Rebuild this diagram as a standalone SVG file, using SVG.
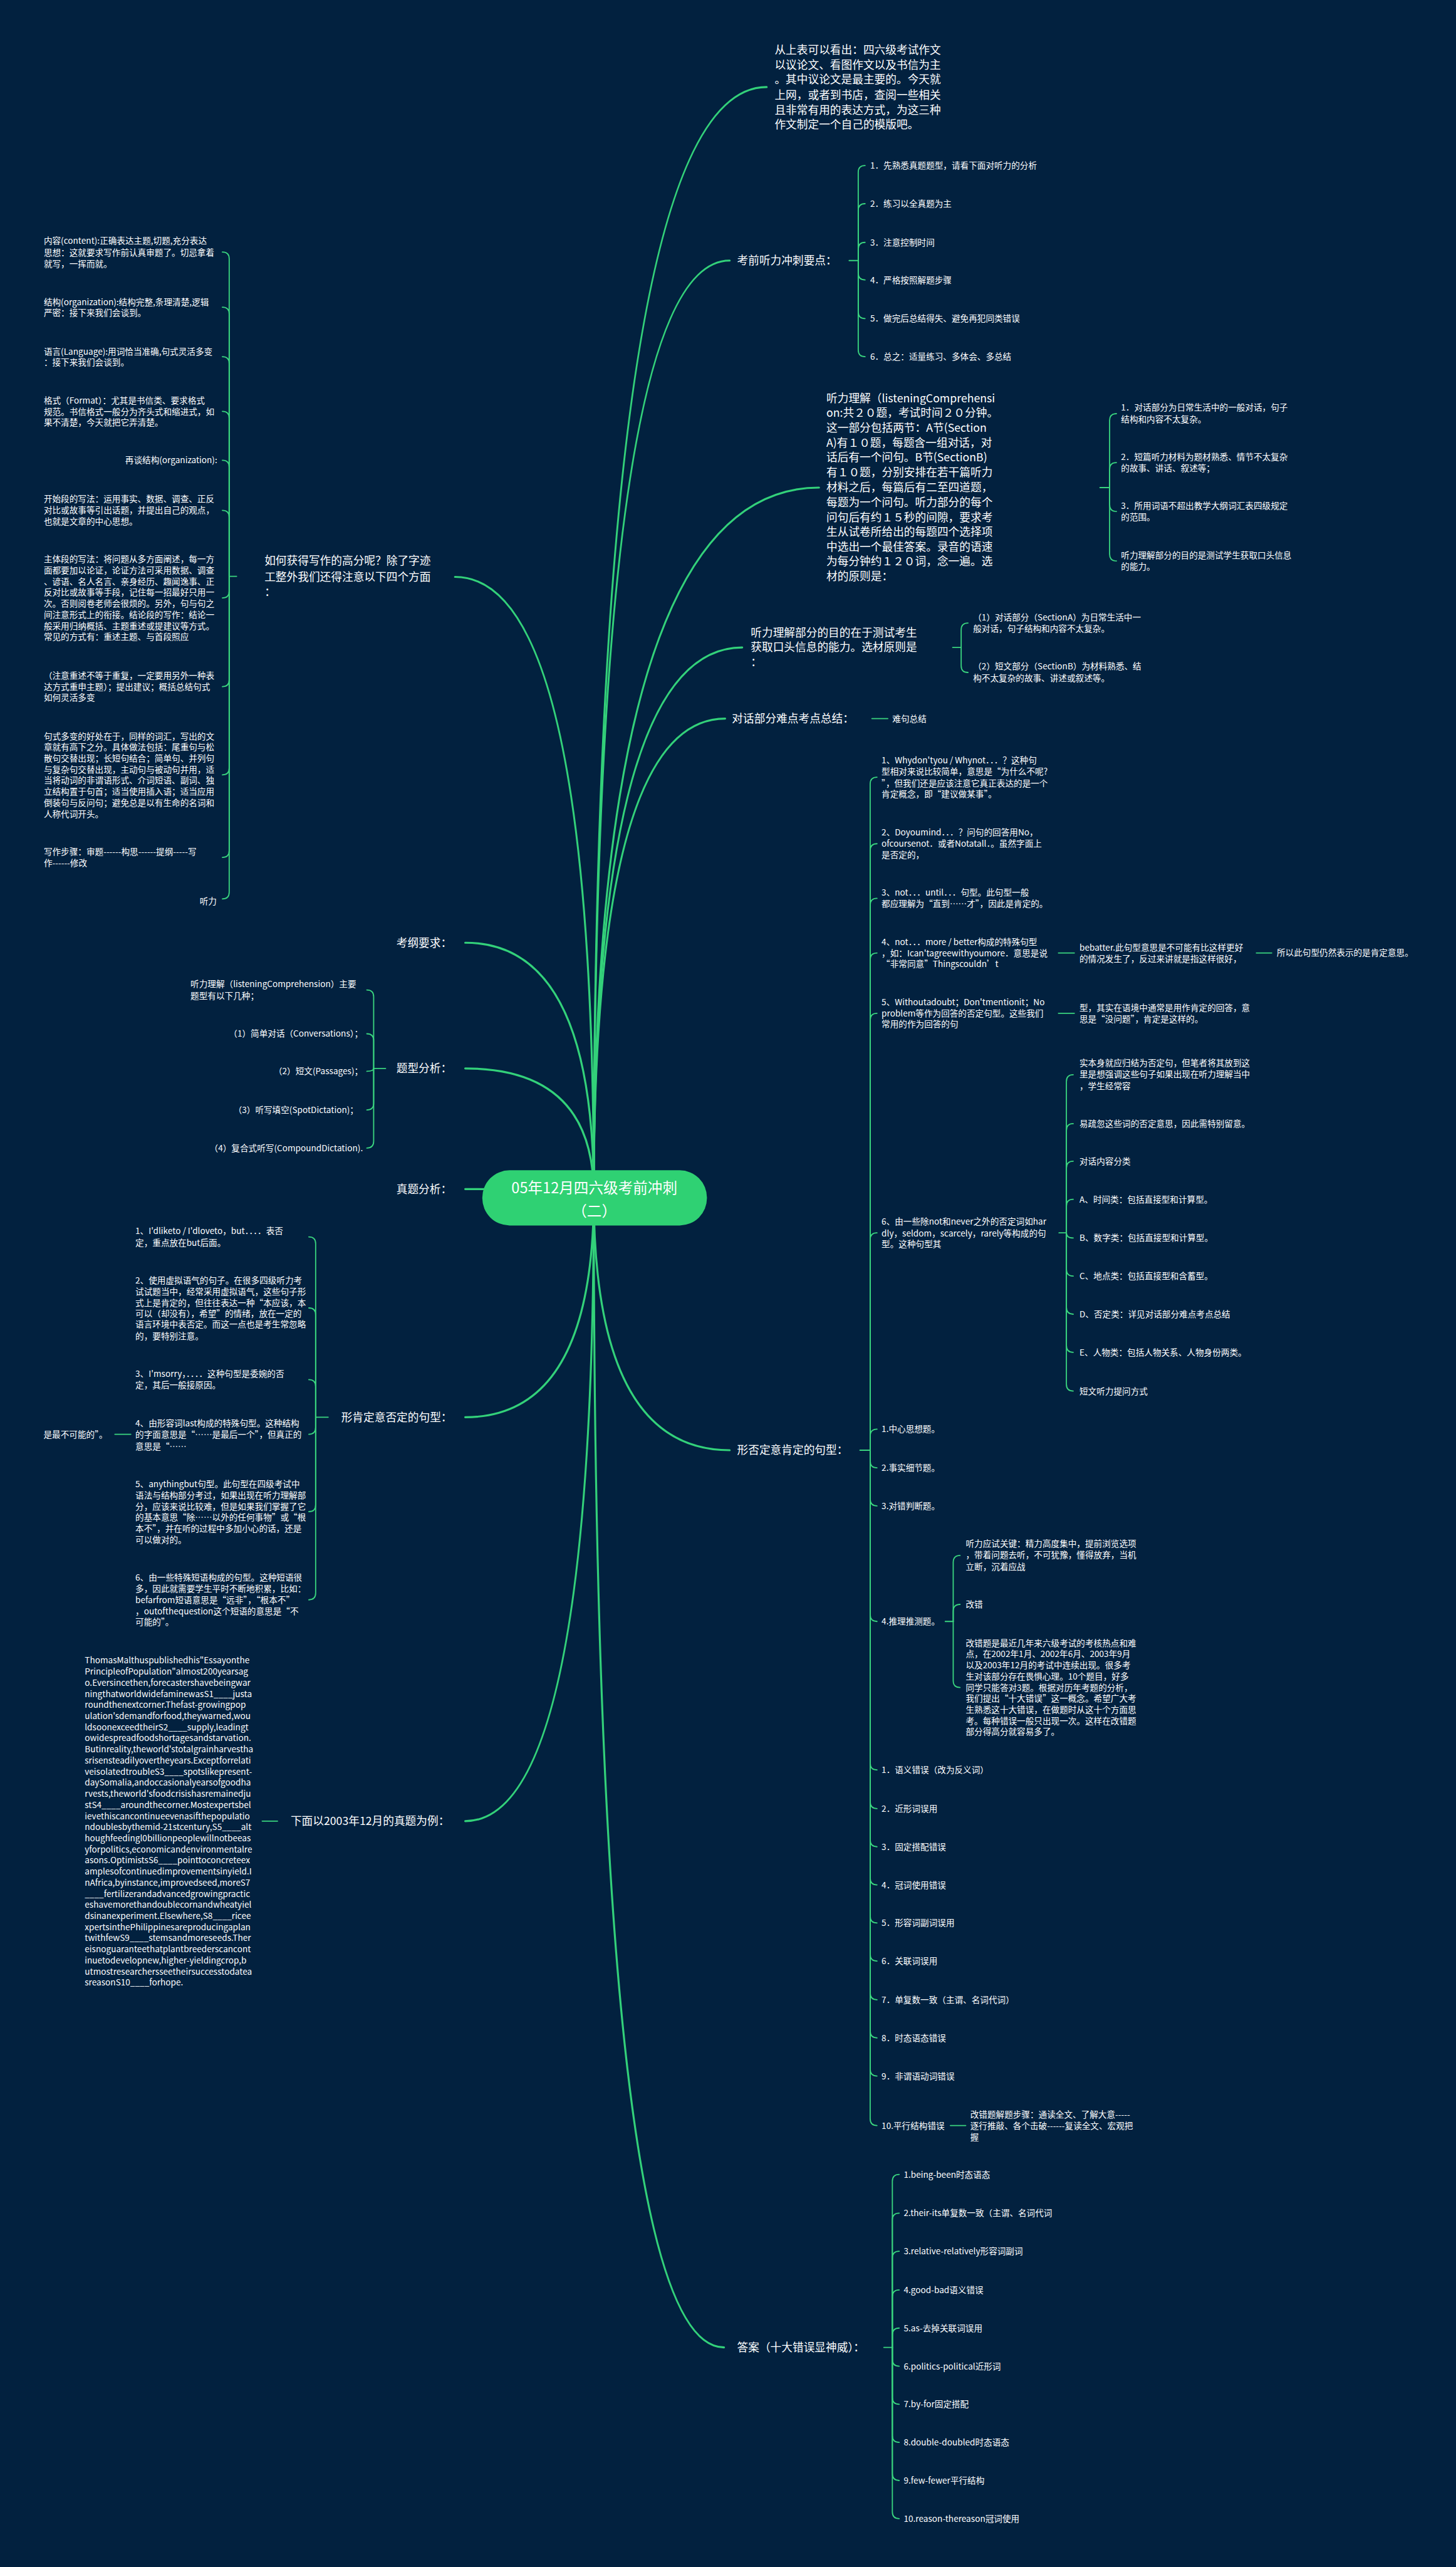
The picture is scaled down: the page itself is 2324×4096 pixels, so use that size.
<svg xmlns="http://www.w3.org/2000/svg" width="2324" height="4096" viewBox="0 0 2324 4096">
<style>
text{font-family:"Microsoft YaHei","Noto Sans CJK SC","Noto Sans",sans-serif;fill:#ffffff}
.h{font-size:19.5px}
.s{font-size:15px}
.e{text-anchor:end}
.m{font-size:26px;text-anchor:middle}
.c1{fill:none;stroke:#33d17a;stroke-width:3.5;stroke-linecap:round}
.c2{fill:none;stroke:#3ad57f;stroke-width:2;stroke-linecap:round}
</style>
<rect x="0" y="0" width="2324" height="4096" fill="#02213f"/>
<g transform="scale(0.9078)">
<g id="connectors">
<path class="c1" d="M1044 2100 Q1044 153 1348 153"/>
<path class="c1" d="M1044 2100 Q1044 458 1283 458"/>
<path class="c1" d="M1044 2100 Q1044 857 1440 857"/>
<path class="c1" d="M1044 2100 Q1044 1138 1305 1138"/>
<path class="c1" d="M1044 2100 Q1044 1263 1275 1263"/>
<path class="c1" d="M1044 2100 Q1044 2549 1283 2549"/>
<path class="c1" d="M1044 2100 Q1044 4126 1273 4126"/>
<path class="c1" d="M1044 2100 Q1044 1014 800 1014"/>
<path class="c1" d="M1044 2100 Q1044 1657 818 1657"/>
<path class="c1" d="M1044 2100 Q1044 1878 818 1878"/>
<path class="c1" d="M1044 2100 Q1044 2090 818 2090"/>
<path class="c1" d="M1044 2100 Q1044 2491 818 2491"/>
<path class="c1" d="M1044 2100 Q1044 3201 818 3201"/>
<!-- R2 -->
<path class="c2" d="M1493 458 H1509"/>
<path class="c2" d="M1509 458 V303 Q1509 291 1521 291"/>
<path class="c2" d="M1509 458 V370 Q1509 358 1521 358"/>
<path class="c2" d="M1509 458 V438 Q1509 426 1521 426"/>
<path class="c2" d="M1509 458 V480 Q1509 492 1521 492"/>
<path class="c2" d="M1509 458 V548 Q1509 560 1521 560"/>
<path class="c2" d="M1509 458 V615 Q1509 627 1521 627"/>
<!-- R3 -->
<path class="c2" d="M1934 857 H1951"/>
<path class="c2" d="M1951 857 V739 Q1951 727 1963 727"/>
<path class="c2" d="M1951 857 V825 Q1951 813 1963 813"/>
<path class="c2" d="M1951 857 V887 Q1951 899 1963 899"/>
<path class="c2" d="M1951 857 V974 Q1951 986 1963 986"/>
<!-- R4 -->
<path class="c2" d="M1675 1138 H1690"/>
<path class="c2" d="M1690 1138 V1107 Q1690 1095 1702 1095"/>
<path class="c2" d="M1690 1138 V1170 Q1690 1182 1702 1182"/>
<!-- R5 -->
<path class="c2" d="M1533 1263 H1561"/>
<!-- R6 -->
<path class="c2" d="M1512 2549 H1530"/>
<path class="c2" d="M1530 2549 V1378 Q1530 1366 1542 1366"/>
<path class="c2" d="M1530 2549 V1495 Q1530 1483 1542 1483"/>
<path class="c2" d="M1530 2549 V1591 Q1530 1579 1542 1579"/>
<path class="c2" d="M1530 2549 V1687 Q1530 1675 1542 1675"/>
<path class="c2" d="M1530 2549 V1793 Q1530 1781 1542 1781"/>
<path class="c2" d="M1530 2549 V2179 Q1530 2167 1542 2167"/>
<path class="c2" d="M1530 2549 V2524 Q1530 2512 1542 2512"/>
<path class="c2" d="M1530 2549 V2568 Q1530 2580 1542 2580"/>
<path class="c2" d="M1530 2549 V2635 Q1530 2647 1542 2647"/>
<path class="c2" d="M1530 2549 V2838 Q1530 2850 1542 2850"/>
<path class="c2" d="M1530 2549 V3099 Q1530 3111 1542 3111"/>
<path class="c2" d="M1530 2549 V3167 Q1530 3179 1542 3179"/>
<path class="c2" d="M1530 2549 V3234 Q1530 3246 1542 3246"/>
<path class="c2" d="M1530 2549 V3301 Q1530 3313 1542 3313"/>
<path class="c2" d="M1530 2549 V3368 Q1530 3380 1542 3380"/>
<path class="c2" d="M1530 2549 V3435 Q1530 3447 1542 3447"/>
<path class="c2" d="M1530 2549 V3503 Q1530 3515 1542 3515"/>
<path class="c2" d="M1530 2549 V3570 Q1530 3582 1542 3582"/>
<path class="c2" d="M1530 2549 V3637 Q1530 3649 1542 3649"/>
<path class="c2" d="M1530 2549 V3724 Q1530 3736 1542 3736"/>
<path class="c2" d="M1861 1675 H1889"/>
<path class="c2" d="M2209 1675 H2236"/>
<path class="c2" d="M1861 1781 H1889"/>
<path class="c2" d="M1862 2167 H1875"/>
<path class="c2" d="M1875 2167 V1901 Q1875 1889 1887 1889"/>
<path class="c2" d="M1875 2167 V1987 Q1875 1975 1887 1975"/>
<path class="c2" d="M1875 2167 V2053 Q1875 2041 1887 2041"/>
<path class="c2" d="M1875 2167 V2120 Q1875 2108 1887 2108"/>
<path class="c2" d="M1875 2167 Q1875 2176 1887 2176"/>
<path class="c2" d="M1875 2167 V2231 Q1875 2243 1887 2243"/>
<path class="c2" d="M1875 2167 V2298 Q1875 2310 1887 2310"/>
<path class="c2" d="M1875 2167 V2365 Q1875 2377 1887 2377"/>
<path class="c2" d="M1875 2167 V2433 Q1875 2445 1887 2445"/>
<path class="c2" d="M1662 2850 H1676"/>
<path class="c2" d="M1676 2850 V2746 Q1676 2734 1688 2734"/>
<path class="c2" d="M1676 2850 V2832 Q1676 2820 1688 2820"/>
<path class="c2" d="M1676 2850 V2954 Q1676 2966 1688 2966"/>
<path class="c2" d="M1671 3736 H1698"/>
<!-- R7 -->
<path class="c2" d="M1554 4126 H1569"/>
<path class="c2" d="M1569 4126 V3834 Q1569 3822 1581 3822"/>
<path class="c2" d="M1569 4126 V3902 Q1569 3890 1581 3890"/>
<path class="c2" d="M1569 4126 V3969 Q1569 3957 1581 3957"/>
<path class="c2" d="M1569 4126 V4037 Q1569 4025 1581 4025"/>
<path class="c2" d="M1569 4126 V4104 Q1569 4092 1581 4092"/>
<path class="c2" d="M1569 4126 V4147 Q1569 4159 1581 4159"/>
<path class="c2" d="M1569 4126 V4214 Q1569 4226 1581 4226"/>
<path class="c2" d="M1569 4126 V4281 Q1569 4293 1581 4293"/>
<path class="c2" d="M1569 4126 V4348 Q1569 4360 1581 4360"/>
<path class="c2" d="M1569 4126 V4415 Q1569 4427 1581 4427"/>
<!-- L1 -->
<path class="c2" d="M416 1013 H403"/>
<path class="c2" d="M403 1013 V455 Q403 443 391 443"/>
<path class="c2" d="M403 1013 V552 Q403 540 391 540"/>
<path class="c2" d="M403 1013 V639 Q403 627 391 627"/>
<path class="c2" d="M403 1013 V735 Q403 723 391 723"/>
<path class="c2" d="M403 1013 V821 Q403 809 391 809"/>
<path class="c2" d="M403 1013 V909 Q403 897 391 897"/>
<path class="c2" d="M403 1013 V1039 Q403 1051 391 1051"/>
<path class="c2" d="M403 1013 V1195 Q403 1207 391 1207"/>
<path class="c2" d="M403 1013 V1350 Q403 1362 391 1362"/>
<path class="c2" d="M403 1013 V1495 Q403 1507 391 1507"/>
<path class="c2" d="M403 1013 V1568 Q403 1580 391 1580"/>
<!-- L3 -->
<path class="c2" d="M678 1878 H657"/>
<path class="c2" d="M657 1878 V1752 Q657 1740 645 1740"/>
<path class="c2" d="M657 1878 V1829 Q657 1817 645 1817"/>
<path class="c2" d="M657 1878 Q657 1883 645 1883"/>
<path class="c2" d="M657 1878 V1939 Q657 1951 645 1951"/>
<path class="c2" d="M657 1878 V2006 Q657 2018 645 2018"/>
<!-- L5 -->
<path class="c2" d="M577 2491 H555"/>
<path class="c2" d="M555 2491 V2186 Q555 2174 543 2174"/>
<path class="c2" d="M555 2491 V2311 Q555 2299 543 2299"/>
<path class="c2" d="M555 2491 V2437 Q555 2425 543 2425"/>
<path class="c2" d="M555 2491 V2509 Q555 2521 543 2521"/>
<path class="c2" d="M555 2491 V2645 Q555 2657 543 2657"/>
<path class="c2" d="M555 2491 V2800 Q555 2812 543 2812"/>
<path class="c2" d="M230 2521 H202"/>
<!-- L6 -->
<path class="c2" d="M488 3201 H461"/>
</g>

<g id="center">
<rect x="848" y="2057" width="395" height="97" rx="48" fill="#2fd173"/>
<text class="m" x="1045" y="2097">05年12月四六级考前冲刺</text>
<text class="m" x="1045" y="2138">（二）</text>
</g>

<g id="r1"><text class="h"><tspan x="1362" y="95">从上表可以看出：四六级考试作文</tspan><tspan x="1362" y="121">以议论文、看图作文以及书信为主</tspan><tspan x="1362" y="147">。其中议论文是最主要的。今天就</tspan><tspan x="1362" y="174">上网，或者到书店，查阅一些相关</tspan><tspan x="1362" y="200">且非常有用的表达方式，为这三种</tspan><tspan x="1362" y="226">作文制定一个自己的模版吧。</tspan></text></g>

<g id="r2"><text class="h" x="1296" y="465">考前听力冲刺要点：</text></g>
<g id="r2-1"><text class="s" x="1530" y="296.5">1．先熟悉真题题型，请看下面对听力的分析</text></g>
<g id="r2-2"><text class="s" x="1530" y="363.5">2．练习以全真题为主</text></g>
<g id="r2-3"><text class="s" x="1530" y="431.5">3．注意控制时间</text></g>
<g id="r2-4"><text class="s" x="1530" y="497.5">4．严格按照解题步骤</text></g>
<g id="r2-5"><text class="s" x="1530" y="565.5">5．做完后总结得失、避免再犯同类错误</text></g>
<g id="r2-6"><text class="s" x="1530" y="632.5">6．总之：适量练习、多体会、多总结</text></g>

<g id="r3"><text class="h"><tspan x="1453" y="707">听力理解（listeningComprehensi</tspan><tspan x="1453" y="733">on:共２０题，考试时间２０分钟。</tspan><tspan x="1453" y="759">这一部分包括两节：A节(Section</tspan><tspan x="1453" y="785">A)有１０题，每题含一组对话，对</tspan><tspan x="1453" y="811">话后有一个问句。B节(SectionB)</tspan><tspan x="1453" y="837">有１０题，分别安排在若干篇听力</tspan><tspan x="1453" y="864">材料之后，每篇后有二至四道题，</tspan><tspan x="1453" y="890">每题为一个问句。听力部分的每个</tspan><tspan x="1453" y="916">问句后有约１５秒的间隙，要求考</tspan><tspan x="1453" y="942">生从试卷所给出的每题四个选择项</tspan><tspan x="1453" y="968">中选出一个最佳答案。录音的语速</tspan><tspan x="1453" y="994">为每分钟约１２０词，念一遍。选</tspan><tspan x="1453" y="1020">材的原则是：</tspan></text></g>
<g id="r3-1"><text class="s"><tspan x="1971" y="722">1．对话部分为日常生活中的一般对话，句子</tspan><tspan x="1971" y="742">结构和内容不太复杂。</tspan></text></g>
<g id="r3-2"><text class="s"><tspan x="1971" y="808">2．短篇听力材料为题材熟悉、情节不太复杂</tspan><tspan x="1971" y="828">的故事、讲话、叙述等；</tspan></text></g>
<g id="r3-3"><text class="s"><tspan x="1971" y="894">3．所用词语不超出教学大纲词汇表四级规定</tspan><tspan x="1971" y="914">的范围。</tspan></text></g>
<g id="r3-4"><text class="s"><tspan x="1971" y="981">听力理解部分的目的是测试学生获取口头信息</tspan><tspan x="1971" y="1001">的能力。</tspan></text></g>

<g id="r4"><text class="h"><tspan x="1320" y="1119">听力理解部分的目的在于测试考生</tspan><tspan x="1320" y="1145">获取口头信息的能力。选材原则是</tspan><tspan x="1320" y="1171">：</tspan></text></g>
<g id="r4-1"><text class="s"><tspan x="1711" y="1090">（1）对话部分（SectionA）为日常生活中一</tspan><tspan x="1711" y="1110">般对话，句子结构和内容不太复杂。</tspan></text></g>
<g id="r4-2"><text class="s"><tspan x="1711" y="1177">（2）短文部分（SectionB）为材料熟悉、结</tspan><tspan x="1711" y="1197">构不太复杂的故事、讲述或叙述等。</tspan></text></g>

<g id="r5"><text class="h" x="1287" y="1270">对话部分难点考点总结：</text></g>
<g id="r5-1"><text class="s" x="1569" y="1268.5">难句总结</text></g>

<g id="r6"><text class="h" x="1296" y="2556">形否定意肯定的句型：</text></g>
<g id="r6-1"><text class="s"><tspan x="1550" y="1342">1、Whydon'tyou / Whynot．．．？这种句</tspan><tspan x="1550" y="1362">型相对来说比较简单，意思是“为什么不呢?</tspan><tspan x="1550" y="1382">”，但我们还是应该注意它真正表达的是一个</tspan><tspan x="1550" y="1401">肯定概念，即“建议做某事”。</tspan></text></g>
<g id="r6-2"><text class="s"><tspan x="1550" y="1468">2、Doyoumind．．．？问句的回答用No，</tspan><tspan x="1550" y="1488">ofcoursenot．或者Notatall．。虽然字面上</tspan><tspan x="1550" y="1508">是否定的，</tspan></text></g>
<g id="r6-3"><text class="s"><tspan x="1550" y="1574">3、not．．．until．．．句型。此句型一般</tspan><tspan x="1550" y="1594">都应理解为“直到……才”，因此是肯定的。</tspan></text></g>
<g id="r6-4"><text class="s"><tspan x="1550" y="1661">4、not．．．more / better构成的特殊句型</tspan><tspan x="1550" y="1681">，如：Ican'tagreewithyoumore．意思是说</tspan><tspan x="1550" y="1700">“非常同意”Thingscouldn’t</tspan></text></g>
<g id="r6-4-1"><text class="s"><tspan x="1898" y="1671">bebatter.此句型意思是不可能有比这样更好</tspan><tspan x="1898" y="1691">的情况发生了，反过来讲就是指这样很好，</tspan></text></g>
<g id="r6-4-2"><text class="s" x="2245" y="1680">所以此句型仍然表示的是肯定意思。</text></g>
<g id="r6-5"><text class="s"><tspan x="1550" y="1767">5、Withoutadoubt；Don'tmentionit；No</tspan><tspan x="1550" y="1787">problem等作为回答的否定句型。这些我们</tspan><tspan x="1550" y="1806">常用的作为回答的句</tspan></text></g>
<g id="r6-5-1"><text class="s"><tspan x="1898" y="1777">型，其实在语境中通常是用作肯定的回答，意</tspan><tspan x="1898" y="1797">思是“没问题”，肯定是这样的。</tspan></text></g>
<g id="r6-6"><text class="s"><tspan x="1550" y="2153">6、由一些除not和never之外的否定词如har</tspan><tspan x="1550" y="2173">dly，seldom，scarcely，rarely等构成的句</tspan><tspan x="1550" y="2192">型。这种句型其</tspan></text></g>
<g id="r6-6-1"><text class="s"><tspan x="1898" y="1874">实本身就应归结为否定句，但笔者将其放到这</tspan><tspan x="1898" y="1894">里是想强调这些句子如果出现在听力理解当中</tspan><tspan x="1898" y="1914">，学生经常容</tspan></text></g>
<g id="r6-6-2"><text class="s" x="1898" y="1980.5">易疏忽这些词的否定意思，因此需特别留意。</text></g>
<g id="r6-6-3"><text class="s" x="1898" y="2046.5">对话内容分类</text></g>
<g id="r6-6-4"><text class="s" x="1898" y="2113.5">A、时间类：包括直接型和计算型。</text></g>
<g id="r6-6-5"><text class="s" x="1898" y="2181.5">B、数字类：包括直接型和计算型。</text></g>
<g id="r6-6-6"><text class="s" x="1898" y="2248.5">C、地点类：包括直接型和含蓄型。</text></g>
<g id="r6-6-7"><text class="s" x="1898" y="2315.5">D、否定类：详见对话部分难点考点总结</text></g>
<g id="r6-6-8"><text class="s" x="1898" y="2382.5">E、人物类：包括人物关系、人物身份两类。</text></g>
<g id="r6-6-9"><text class="s" x="1898" y="2450.5">短文听力提问方式</text></g>
<g id="r6-7"><text class="s" x="1550" y="2517.5">1.中心思想题。</text></g>
<g id="r6-8"><text class="s" x="1550" y="2585.5">2.事实细节题。</text></g>
<g id="r6-9"><text class="s" x="1550" y="2652.5">3.对错判断题。</text></g>
<g id="r6-10"><text class="s" x="1550" y="2855.5">4.推理推测题。</text></g>
<g id="r6-10-1"><text class="s"><tspan x="1698" y="2719">听力应试关键：精力高度集中，提前浏览选项</tspan><tspan x="1698" y="2739">，带着问题去听，不可犹豫，懂得放弃，当机</tspan><tspan x="1698" y="2759">立断，沉着应战</tspan></text></g>
<g id="r6-10-2"><text class="s" x="1698" y="2825.5">改错</text></g>
<g id="r6-10-3"><text class="s"><tspan x="1698" y="2893.5">改错题是最近几年来六级考试的考核热点和难</tspan><tspan x="1698" y="2913">点，在2002年1月、2002年6月、2003年9月</tspan><tspan x="1698" y="2932.5">以及2003年12月的考试中连续出现。很多考</tspan><tspan x="1698" y="2952">生对该部分存在畏惧心理。10个题目，好多</tspan><tspan x="1698" y="2971.5">同学只能答对3题。根据对历年考题的分析，</tspan><tspan x="1698" y="2991">我们提出“十大错误”这一概念。希望广大考</tspan><tspan x="1698" y="3010.5">生熟悉这十大错误，在做题时从这十个方面思</tspan><tspan x="1698" y="3030">考。每种错误一般只出现一次。这样在改错题</tspan><tspan x="1698" y="3049.5">部分得高分就容易多了。</tspan></text></g>
<g id="r6-11"><text class="s" x="1550" y="3116.5">1．语义错误（改为反义词）</text></g>
<g id="r6-12"><text class="s" x="1550" y="3184.5">2．近形词误用</text></g>
<g id="r6-13"><text class="s" x="1550" y="3251.5">3．固定搭配错误</text></g>
<g id="r6-14"><text class="s" x="1550" y="3318.5">4．冠词使用错误</text></g>
<g id="r6-15"><text class="s" x="1550" y="3385.5">5．形容词副词误用</text></g>
<g id="r6-16"><text class="s" x="1550" y="3452.5">6．关联词误用</text></g>
<g id="r6-17"><text class="s" x="1550" y="3520.5">7．单复数一致（主谓、名词代词）</text></g>
<g id="r6-18"><text class="s" x="1550" y="3587.5">8．时态语态错误</text></g>
<g id="r6-19"><text class="s" x="1550" y="3654.5">9．非谓语动词错误</text></g>
<g id="r6-20"><text class="s" x="1550" y="3741.5">10.平行结构错误</text></g>
<g id="r6-20-1"><text class="s"><tspan x="1706" y="3722.5">改错题解题步骤：通读全文、了解大意-----</tspan><tspan x="1706" y="3742">逐行推敲、各个击破------复读全文、宏观把</tspan><tspan x="1706" y="3761.5">握</tspan></text></g>

<g id="r7"><text class="h" x="1296" y="4133">答案（十大错误显神威）：</text></g>
<g id="r7-1"><text class="s" x="1589" y="3827.5">1.being-been时态语态</text></g>
<g id="r7-2"><text class="s" x="1589" y="3895.5">2.their-its单复数一致（主谓、名词代词</text></g>
<g id="r7-3"><text class="s" x="1589" y="3962.5">3.relative-relatively形容词副词</text></g>
<g id="r7-4"><text class="s" x="1589" y="4030.5">4.good-bad语义错误</text></g>
<g id="r7-5"><text class="s" x="1589" y="4097.5">5.as-去掉关联词误用</text></g>
<g id="r7-6"><text class="s" x="1589" y="4164.5">6.politics-political近形词</text></g>
<g id="r7-7"><text class="s" x="1589" y="4231.5">7.by-for固定搭配</text></g>
<g id="r7-8"><text class="s" x="1589" y="4298.5">8.double-doubled时态语态</text></g>
<g id="r7-9"><text class="s" x="1589" y="4365.5">9.few-fewer平行结构</text></g>
<g id="r7-10"><text class="s" x="1589" y="4432.5">10.reason-thereason冠词使用</text></g>

<g id="l1"><text class="h"><tspan x="465" y="993">如何获得写作的高分呢？除了字迹</tspan><tspan x="465" y="1021">工整外我们还得注意以下四个方面</tspan><tspan x="465" y="1048">：</tspan></text></g>
<g id="l1-1"><text class="s"><tspan x="77" y="429">内容(content):正确表达主题,切题,充分表达</tspan><tspan x="77" y="449">思想：这就要求写作前认真审题了。切忌拿着</tspan><tspan x="77" y="469">就写，一挥而就。</tspan></text></g>
<g id="l1-2"><text class="s"><tspan x="77" y="536">结构(organization):结构完整,条理清楚,逻辑</tspan><tspan x="77" y="555">严密：接下来我们会谈到。</tspan></text></g>
<g id="l1-3"><text class="s"><tspan x="77" y="623">语言(Language):用词恰当准确,句式灵活多变</tspan><tspan x="77" y="642">：接下来我们会谈到。</tspan></text></g>
<g id="l1-4"><text class="s"><tspan x="77" y="709">格式（Format）：尤其是书信类、要求格式</tspan><tspan x="77" y="729">规范。书信格式一般分为齐头式和缩进式，如</tspan><tspan x="77" y="748">果不清楚，今天就把它弄清楚。</tspan></text></g>
<g id="l1-5"><text class="s e" x="382" y="814.5">再谈结构(organization):</text></g>
<g id="l1-6"><text class="s"><tspan x="77" y="882.5">开始段的写法：运用事实、数据、调查、正反</tspan><tspan x="77" y="902.5">对比或故事等引出话题，并提出自己的观点，</tspan><tspan x="77" y="921.5">也就是文章的中心思想。</tspan></text></g>
<g id="l1-7"><text class="s"><tspan x="77" y="988.5">主体段的写法：将问题从多方面阐述，每一方</tspan><tspan x="77" y="1008">面都要加以论证，论证方法可采用数据、调查</tspan><tspan x="77" y="1027.5">、谚语、名人名言、亲身经历、趣闻逸事、正</tspan><tspan x="77" y="1047">反对比或故事等手段，记住每一招最好只用一</tspan><tspan x="77" y="1066.5">次。否则阅卷老师会很烦的。另外，句与句之</tspan><tspan x="77" y="1086">间注意形式上的衔接。结论段的写作：结论一</tspan><tspan x="77" y="1105.5">般采用归纳概括、主题重述或提建议等方式。</tspan><tspan x="77" y="1125">常见的方式有：重述主题、与首段照应</tspan></text></g>
<g id="l1-8"><text class="s"><tspan x="77" y="1192.5">（注意重述不等于重复，一定要用另外一种表</tspan><tspan x="77" y="1212.5">达方式重申主题）；提出建议；概括总结句式</tspan><tspan x="77" y="1231.5">如何灵活多变</tspan></text></g>
<g id="l1-9"><text class="s"><tspan x="77" y="1299.5">句式多变的好处在于，同样的词汇，写出的文</tspan><tspan x="77" y="1319">章就有高下之分。具体做法包括：尾重句与松</tspan><tspan x="77" y="1338.5">散句交替出现；长短句结合；简单句、并列句</tspan><tspan x="77" y="1358">与复杂句交替出现，主动句与被动句并用，适</tspan><tspan x="77" y="1377.5">当将动词的非谓语形式、介词短语、副词、独</tspan><tspan x="77" y="1397">立结构置于句首；适当使用插入语；适当应用</tspan><tspan x="77" y="1416.5">倒装句与反问句；避免总是以有生命的名词和</tspan><tspan x="77" y="1436">人称代词开头。</tspan></text></g>
<g id="l1-10"><text class="s"><tspan x="77" y="1502.5">写作步骤：审题------构思------提纲-----写</tspan><tspan x="77" y="1522.5">作------修改</tspan></text></g>
<g id="l1-11"><text class="s e" x="381" y="1589.5">听力</text></g>

<g id="l2"><text class="h" x="697" y="1664">考纲要求：</text></g>

<g id="l3"><text class="h" x="697" y="1885">题型分析：</text></g>
<g id="l3-1"><text class="s"><tspan x="335" y="1735.5">听力理解（listeningComprehension）主要</tspan><tspan x="335" y="1755.5">题型有以下几种；</tspan></text></g>
<g id="l3-2"><text class="s e" x="638" y="1822.5">（1）简单对话（Conversations）；</text></g>
<g id="l3-3"><text class="s e" x="638" y="1888.5">（2）短文(Passages)；</text></g>
<g id="l3-4"><text class="s e" x="630" y="1956.5">（3）听写填空(SpotDictation)；</text></g>
<g id="l3-5"><text class="s e" x="638" y="2023.5">（4）复合式听写(CompoundDictation).</text></g>

<g id="l4"><text class="h" x="697" y="2097">真题分析：</text></g>

<g id="l5"><text class="h" x="600" y="2498">形肯定意否定的句型：</text></g>
<g id="l5-1"><text class="s"><tspan x="238" y="2169.5">1、I'dliketo / I'dloveto，but．．．．表否</tspan><tspan x="238" y="2189.5">定，重点放在but后面。</tspan></text></g>
<g id="l5-2"><text class="s"><tspan x="238" y="2255.5">2、使用虚拟语气的句子。在很多四级听力考</tspan><tspan x="238" y="2275.5">试试题当中，经常采用虚拟语气，这些句子形</tspan><tspan x="238" y="2295.5">式上是肯定的，但往往表达一种“本应该，本</tspan><tspan x="238" y="2314.5">可以（却没有），希望”的情绪，放在一定的</tspan><tspan x="238" y="2333.5">语言环境中表否定。而这一点也是考生常忽略</tspan><tspan x="238" y="2353.5">的，要特别注意。</tspan></text></g>
<g id="l5-3"><text class="s"><tspan x="238" y="2420.5">3、I'msorry，．．．．这种句型是委婉的否</tspan><tspan x="238" y="2440.5">定，其后一般接原因。</tspan></text></g>
<g id="l5-4"><text class="s"><tspan x="238" y="2507.5">4、由形容词last构成的特殊句型。这种结构</tspan><tspan x="238" y="2527.5">的字面意思是“……是最后一个”，但真正的</tspan><tspan x="238" y="2547.5">意思是“……</tspan></text></g>
<g id="l5-4-1"><text class="s e" x="189" y="2526.5">是最不可能的”。</text></g>
<g id="l5-5"><text class="s"><tspan x="238" y="2613.5">5、anythingbut句型。此句型在四级考试中</tspan><tspan x="238" y="2633.5">语法与结构部分考过，如果出现在听力理解部</tspan><tspan x="238" y="2653.5">分，应该来说比较难，但是如果我们掌握了它</tspan><tspan x="238" y="2672.5">的基本意思“除……以外的任何事物”或“根</tspan><tspan x="238" y="2692.5">本不”，并在听的过程中多加小心的话，还是</tspan><tspan x="238" y="2711.5">可以做对的。</tspan></text></g>
<g id="l5-6"><text class="s"><tspan x="238" y="2778.5">6、由一些特殊短语构成的句型。这种短语很</tspan><tspan x="238" y="2798.5">多，因此就需要学生平时不断地积累，比如：</tspan><tspan x="238" y="2817.5">befarfrom短语意思是“远非”，“根本不”</tspan><tspan x="238" y="2837.5">，outofthequestion这个短语的意思是“不</tspan><tspan x="238" y="2856.5">可能的”。</tspan></text></g>

<g id="l6"><text class="h" x="511" y="3208">下面以2003年12月的真题为例：</text></g>
<g id="l6-1"><text class="s"><tspan x="149" y="2924">ThomasMalthuspublishedhis"Essayonthe</tspan><tspan x="149" y="2943.5">PrincipleofPopulation"almost200yearsag</tspan><tspan x="149" y="2963">o.Eversincethen,forecastershavebeingwar</tspan><tspan x="149" y="2982.6">ningthatworldwidefaminewasS1____justa</tspan><tspan x="149" y="3002">roundthenextcorner.Thefast-growingpop</tspan><tspan x="149" y="3021.6">ulation'sdemandforfood,theywarned,wou</tspan><tspan x="149" y="3041">ldsoonexceedtheirS2____supply,leadingt</tspan><tspan x="149" y="3060.6">owidespreadfoodshortagesandstarvation.</tspan><tspan x="149" y="3080">Butinreality,theworld'stotalgrainharvestha</tspan><tspan x="149" y="3099.7">srisensteadilyovertheyears.Exceptforrelati</tspan><tspan x="149" y="3119.2">veisolatedtroubleS3____spotslikepresent-</tspan><tspan x="149" y="3138.7">daySomalia,andoccasionalyearsofgoodha</tspan><tspan x="149" y="3158.2">rvests,theworld'sfoodcrisishasremainedju</tspan><tspan x="149" y="3177.8">stS4____aroundthecorner.Mostexpertsbel</tspan><tspan x="149" y="3197.3">ievethiscancontinueevenasifthepopulatio</tspan><tspan x="149" y="3216.8">ndoublesbythemid-21stcentury,S5____alt</tspan><tspan x="149" y="3236.3">houghfeedingl0billionpeoplewillnotbeeas</tspan><tspan x="149" y="3255.8">yforpolitics,economicandenvironmentalre</tspan><tspan x="149" y="3275.4">asons.OptimistsS6____pointtoconcreteex</tspan><tspan x="149" y="3294.9">amplesofcontinuedimprovementsinyield.I</tspan><tspan x="149" y="3314.4">nAfrica,byinstance,improvedseed,moreS7</tspan><tspan x="149" y="3333.9">____fertilizerandadvancedgrowingpractic</tspan><tspan x="149" y="3353.4">eshavemorethandoublecornandwheatyiel</tspan><tspan x="149" y="3373">dsinanexperiment.Elsewhere,S8____ricee</tspan><tspan x="149" y="3392.5">xpertsinthePhilippinesareproducingaplan</tspan><tspan x="149" y="3412">twithfewS9____stemsandmoreseeds.Ther</tspan><tspan x="149" y="3431.5">eisnoguaranteethatplantbreederscancont</tspan><tspan x="149" y="3451">inuetodevelopnew,higher-yieldingcrop,b</tspan><tspan x="149" y="3470.6">utmostresearchersseetheirsuccesstodatea</tspan><tspan x="149" y="3490">sreasonS10____forhope.</tspan></text></g>
</g>
</svg>
